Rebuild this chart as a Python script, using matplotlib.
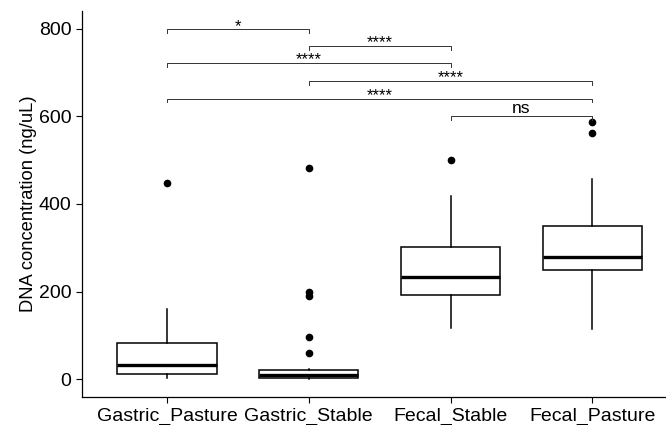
import matplotlib.pyplot as plt

plt.rcParams['font.family'] = ['Liberation Sans', 'DejaVu Sans']

groups = ['Gastric_Pasture', 'Gastric_Stable', 'Fecal_Stable', 'Fecal_Pasture']

# five-number summaries (ng/uL)
whisker_low = [3, 0, 116, 114]
q1 = [12, 3, 193, 249]
median = [31, 9, 234, 279]
q3 = [83, 20, 302, 350]
whisker_high = [161, 23, 418, 456]
outliers = [
    [448],
    [482, 198, 190, 97, 59],
    [500],
    [587, 562],
]

# pairwise comparisons: (group a, group b, bracket height, label)
comp_a = [0, 1, 0, 1, 0, 2]
comp_b = [1, 2, 2, 3, 3, 3]
comp_y = [799, 761, 722, 681, 641, 600]
comp_label = ['*', '****', '****', '****', '****', 'ns']

stats = []
for i, g in enumerate(groups):
    stats.append({
        'label': g,
        'whislo': whisker_low[i],
        'q1': q1[i],
        'med': median[i],
        'q3': q3[i],
        'whishi': whisker_high[i],
        'fliers': outliers[i],
    })

fig = plt.figure(figsize=(6.66, 4.25), dpi=100)
ax = fig.add_axes([82 / 666, 28 / 425, 1 - 82 / 666, 386 / 425])

pos = list(range(len(groups)))
ax.bxp(stats, positions=pos, widths=0.7, showcaps=False, patch_artist=True,
       boxprops=dict(facecolor='white', edgecolor='black', linewidth=1.1),
       whiskerprops=dict(color='black', linewidth=1.1),
       medianprops=dict(color='black', linewidth=2.4),
       flierprops=dict(marker='o', markerfacecolor='black', markeredgecolor='black',
                       markersize=4.5))

tip = 8
for a, b, y, lab in zip(comp_a, comp_b, comp_y, comp_label):
    ax.plot([a, a, b, b], [y - tip, y, y, y - tip], color='#333333', lw=0.7,
            clip_on=False)
    if lab == 'ns':
        ax.text((a + b) / 2, y + 9, lab, ha='center', va='baseline', fontsize=12.5)
    else:
        ax.text((a + b) / 2, y - 3, lab, ha='center', va='baseline', fontsize=12)

ax.set_xlim(-0.6, 3.52)
ax.set_ylim(-41, 841)
ax.set_yticks([0, 200, 400, 600, 800])
ax.set_xticks(pos)
ax.set_xticklabels(groups)
ax.tick_params(labelsize=14, colors='black', length=4, width=0.8)
ax.set_ylabel('DNA concentration (ng/uL)', fontsize=13.2, labelpad=1)

for s in ['top', 'right']:
    ax.spines[s].set_visible(False)
for s in ['left', 'bottom']:
    ax.spines[s].set_linewidth(0.9)

fig.savefig('out.png', dpi=100)
